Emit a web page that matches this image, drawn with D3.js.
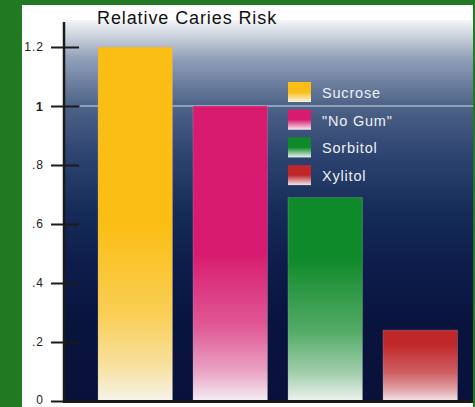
<!DOCTYPE html>
<html>
<head>
<meta charset="utf-8">
<script src="https://cdn.jsdelivr.net/npm/d3@7"></script>
<style>
  html, body { margin: 0; padding: 0; background: #217a21; }
  svg { display: block; }
  text { font-family: "Liberation Sans", Arial, sans-serif; }
</style>
</head>
<body>
<svg id="chart" width="475" height="407"></svg>
<script>
const categories = ["Sucrose", "\"No Gum\"", "Sorbitol", "Xylitol"];
const values = [1.2, 1.0, 0.69, 0.24];
const topColors = ["#fbbe14", "#d81b6e", "#0f8a2a", "#c0272a"];
const bottomColors = ["#f6f4ea", "#f4eef2", "#eef3f0", "#f2e6ea"];
const tickValues = [0, 0.2, 0.4, 0.6, 0.8, 1, 1.2];
const tickLabels = ["0", ".2", ".4", ".6", ".8", "1", "1.2"];
const title = "Relative Caries Risk";

const svg = d3.select("#chart");
const defs = svg.append("defs");

// panel
svg.append("rect").attr("x", 22).attr("y", 5).attr("width", 451).attr("height", 402).attr("fill", "#ffffff");

const y = d3.scaleLinear().domain([0, 1.2]).range([401, 47]);
const x = d3.scaleBand().domain(categories).range([98, 457.5]).paddingInner(0.216).paddingOuter(0);

// background gradient
const bg = defs.append("linearGradient").attr("id", "bg").attr("x1", 0).attr("y1", 0).attr("x2", 0).attr("y2", 1);
[[0, "#f4f5f8"], [0.05, "#c4ccd8"], [0.1, "#92a0ba"], [0.22, "#4e6488"], [0.36, "#2c4270"], [0.5, "#162c58"], [0.65, "#0d1c4a"], [0.8, "#09143d"], [1, "#08113a"]]
  .forEach(([o, c]) => bg.append("stop").attr("offset", o).attr("stop-color", c));
svg.append("rect").attr("x", 65).attr("y", 20).attr("width", 408).attr("height", 381).attr("fill", "url(#bg)");

// title
svg.append("text").attr("x", 97).attr("y", 24).attr("font-size", 18).attr("letter-spacing", 0.9)
  .attr("fill", "#111").text(title);

// reference line at 1
svg.append("line").attr("x1", 80).attr("x2", 473).attr("y1", y(1)).attr("y2", y(1))
  .attr("stroke", "#a8b6cc").attr("stroke-width", 1.5);

// bar gradients
categories.forEach((c, i) => {
  const g = defs.append("linearGradient").attr("id", "g" + i).attr("x1", 0).attr("y1", 0).attr("x2", 0).attr("y2", 1);
  const solid = i === 3 ? 0.2 : (i === 2 ? 0.3 : 0.5);
  const mix = d3.interpolateRgb(topColors[i], bottomColors[i]);
  g.append("stop").attr("offset", 0).attr("stop-color", topColors[i]);
  g.append("stop").attr("offset", solid).attr("stop-color", topColors[i]);
  g.append("stop").attr("offset", solid + (1 - solid) * 0.5).attr("stop-color", mix(0.3));
  g.append("stop").attr("offset", solid + (1 - solid) * 0.8).attr("stop-color", mix(0.65));
  g.append("stop").attr("offset", 1).attr("stop-color", bottomColors[i]);
});

svg.selectAll("rect.bar").data(values).enter().append("rect").attr("class", "bar")
  .attr("x", (d, i) => x(categories[i]))
  .attr("y", d => y(d))
  .attr("width", x.bandwidth())
  .attr("height", d => y(0) - y(d))
  .attr("fill", (d, i) => `url(#g${i})`)
  .attr("stroke", "rgba(170,170,200,0.3)").attr("stroke-width", 1);

// axis
const axis = d3.axisLeft(y).tickValues(tickValues).tickFormat((d, i) => tickLabels[i]).tickSize(13).tickPadding(7).tickSizeOuter(0);
const ag = svg.append("g").attr("transform", "translate(64,0)").call(axis);
ag.select(".domain").remove();
ag.selectAll(".tick line").attr("x1", 15).attr("x2", -13).attr("stroke", "#1a1a1a").attr("stroke-width", 2);
ag.selectAll(".tick text").attr("letter-spacing", 1).attr("fill", "#222")
  .attr("font-family", "Liberation Sans, Arial, sans-serif")
  .attr("font-weight", (d) => d === 1 ? "bold" : "normal")
  .attr("font-size", (d) => d === 1 ? 13 : 12);
ag.selectAll(".tick").filter(d => d === 0).select("text").attr("dy", "0.2em");
svg.append("line").attr("x1", 64).attr("x2", 64).attr("y1", 22).attr("y2", 402).attr("stroke", "#1a1a1a").attr("stroke-width", 2.5);
svg.append("line").attr("x1", 63).attr("x2", 473).attr("y1", 401.5).attr("y2", 401.5).attr("stroke", "#1a1a1a").attr("stroke-width", 3);

// legend
const lg = svg.append("g");
categories.forEach((c, i) => {
  const ly = 82 + i * 27.7;
  const g = defs.append("linearGradient").attr("id", "lg" + i).attr("x1", 0).attr("y1", 0).attr("x2", 0).attr("y2", 1);
  g.append("stop").attr("offset", 0).attr("stop-color", topColors[i]);
  g.append("stop").attr("offset", 0.5).attr("stop-color", topColors[i]);
  g.append("stop").attr("offset", 1).attr("stop-color", bottomColors[i]);
  lg.append("rect").attr("x", 288).attr("y", ly).attr("width", 23).attr("height", 20).attr("fill", `url(#lg${i})`);
  lg.append("text").attr("x", 322).attr("y", ly + 16).attr("font-size", 14.5).attr("letter-spacing", 0.8)
    .attr("fill", "#eef0f4").text(c);
});
</script>
</body>
</html>
